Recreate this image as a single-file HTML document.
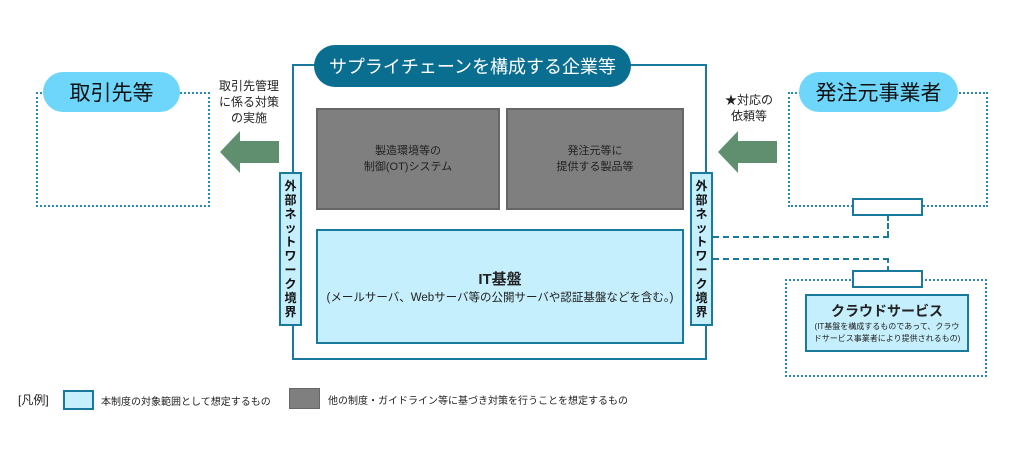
<!DOCTYPE html>
<html><head><meta charset="utf-8"><style>
body{margin:0;width:1024px;height:454px;background:#fff;position:relative;overflow:hidden;font-family:"Liberation Sans","Noto Sans CJK JP",sans-serif;color:#222}
div{position:absolute;box-sizing:border-box}
.c{display:flex;align-items:center;justify-content:center;text-align:center}
.dot{border:2px dotted #2a8ab0}
.pill{background:#6fd6fb;border-radius:20px;font-size:21px;color:#111}
.gray{background:#7f7f7f;border:2px solid #666;font-size:11px;color:#222;line-height:16px}
.strip{background:#c5effc;border:2px solid #1a7a9e;font-size:12px;line-height:14px;font-weight:bold;color:#111}
.wb{background:#fff;border:2px solid #1a7a9e}
.dl{border-color:#1a7a9e;border-style:dashed;border-width:0}
</style></head><body>
<div style="left:292px;top:64px;width:415px;height:296px;border:2px solid #1a7a9e"></div>
<div class="c" style="left:314px;top:45px;width:317px;height:42px;background:#0a6e91;border-radius:21px;color:#fff;font-size:18px;white-space:nowrap">サプライチェーンを構成する企業等</div>
<div class="c gray" style="left:316px;top:108px;width:184px;height:102px">製造環境等の<br>制御(OT)システム</div>
<div class="c gray" style="left:506px;top:108px;width:178px;height:102px">発注元等に<br>提供する製品等</div>
<div class="c" style="left:316px;top:229px;width:368px;height:115px;background:#c5effc;border:2px solid #1a7a9e;flex-direction:column;font-size:11.5px;white-space:nowrap"><b style="font-size:15px">IT基盤</b><span>(メールサーバ、Webサーバ等の公開サーバや認証基盤などを含む。)</span></div>
<div class="c strip" style="left:279px;top:172px;width:23px;height:154px">外<br>部<br>ネ<br>ッ<br>ト<br>ワ<br>ー<br>ク<br>境<br>界</div>
<div class="c strip" style="left:690px;top:172px;width:23px;height:154px">外<br>部<br>ネ<br>ッ<br>ト<br>ワ<br>ー<br>ク<br>境<br>界</div>
<div class="dot" style="left:36px;top:92px;width:174px;height:115px"></div>
<div class="c pill" style="left:43px;top:72px;width:137px;height:40px">取引先等</div>
<div class="c" style="left:212px;top:78px;width:74px;font-size:12px;line-height:16px">取引先管理<br>に係る対策<br>の実施</div>
<svg style="position:absolute;left:220px;top:131px" width="60" height="42"><polygon points="0,21 20,0 20,10 59,10 59,32 20,32 20,42" fill="#5f8f6f"/></svg>
<div class="dot" style="left:788px;top:92px;width:200px;height:115px"></div>
<div class="c pill" style="left:799px;top:72px;width:159px;height:40px">発注元事業者</div>
<div class="c" style="left:716px;top:92px;width:66px;font-size:12px;line-height:16px">★対応の<br>依頼等</div>
<svg style="position:absolute;left:718px;top:131px" width="60" height="42"><polygon points="0,21 20,0 20,10 59,10 59,32 20,32 20,42" fill="#5f8f6f"/></svg>
<div class="dl" style="left:713px;top:236px;width:176px;height:1px;border-top-width:2px"></div>
<div class="dl" style="left:887px;top:215px;width:2px;height:22px;border-left-width:2px"></div>
<div class="dl" style="left:713px;top:258px;width:176px;height:1px;border-top-width:2px"></div>
<div class="dl" style="left:887px;top:258px;width:2px;height:13px;border-left-width:2px"></div>
<div class="wb" style="left:852px;top:198px;width:71px;height:18px"></div>
<div class="dot" style="left:785px;top:279px;width:202px;height:98px"></div>
<div class="wb" style="left:852px;top:270px;width:71px;height:18px"></div>
<div class="c" style="left:805px;top:294px;width:164px;height:58px;background:#c5effc;border:2px solid #1a7a9e;flex-direction:column;font-size:8px;line-height:12px;white-space:nowrap"><b style="font-size:14px;line-height:20px">クラウドサービス</b>(IT基盤を構成するものであって、クラウ<br>ドサービス事業者により提供されるもの)</div>
<div style="left:18px;top:391px;font-size:12px">[凡例]</div>
<div style="left:63px;top:390px;width:31px;height:20px;background:#c5effc;border:2px solid #1a7a9e"></div>
<div style="left:101px;top:393px;font-size:10px">本制度の対象範囲として想定するもの</div>
<div style="left:289px;top:388px;width:31px;height:21px;background:#7f7f7f;border:1px solid #666"></div>
<div style="left:328px;top:392px;font-size:10px">他の制度・ガイドライン等に基づき対策を行うことを想定するもの</div>
</body></html>
